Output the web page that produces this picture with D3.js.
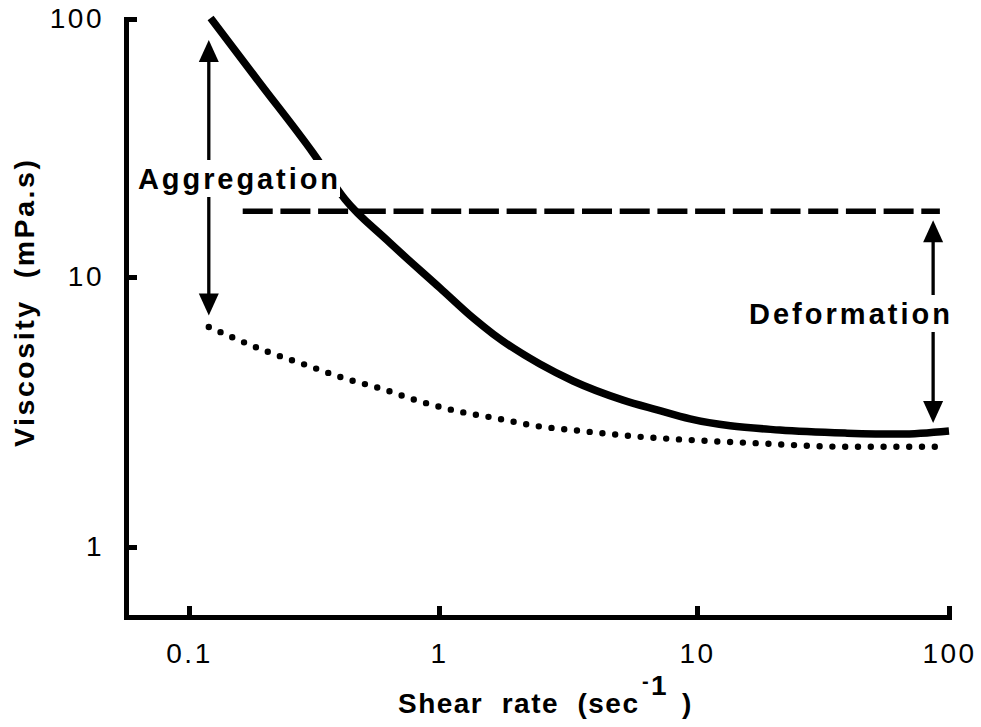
<!DOCTYPE html>
<html>
<head>
<meta charset="utf-8">
<script src="https://cdn.jsdelivr.net/npm/d3@7"></script>
<style>
  html, body { margin: 0; padding: 0; background: #fff; }
  svg { display: block; }
  text { font-family: "Liberation Sans", Arial, Helvetica, sans-serif; fill: #000; }
</style>
</head>
<body>
<svg id="chart" width="981" height="727"></svg>
<script>
// Tick values on both logarithmic axes
const shearTicks = [0.1, 1, 10, 100];
const viscosityTicks = [1, 10, 100];

// Whole blood viscosity vs shear rate (solid curve)
const bloodShear     = [0.122, 0.192, 0.313, 0.421, 0.619, 1.009, 1.355, 1.62, 2.46, 3.31, 5.17, 7.0, 9.4, 21.3, 39.4, 64, 100];
const bloodViscosity = [101, 56.5, 30.3, 20.0, 13.9, 9.1, 7.05, 6.15, 4.76, 4.12, 3.50, 3.22, 2.98, 2.71, 2.64, 2.62, 2.69];

// Non-aggregating suspension (dotted curve)
const noAggShear     = [0.120, 0.207, 0.294, 0.413, 0.592, 0.832, 1.17, 1.66, 2.36, 3.31, 6.0, 9.4, 16.2, 40.4, 94];
const noAggViscosity = [6.53, 5.28, 4.72, 4.23, 3.85, 3.47, 3.19, 3.0, 2.81, 2.71, 2.56, 2.49, 2.43, 2.35, 2.35];

// Rigid-cell suspension (dashed line)
const rigidShear     = [0.164, 92];
const rigidViscosity = [18, 18];

// Double-headed annotation arrows: [shear, top viscosity, bottom viscosity]
const aggregationArrow = [0.12, 83, 7.2];
const deformationArrow = [86.5, 16.6, 2.88];

const svg = d3.select("#chart");
svg.append("rect").attr("width", 981).attr("height", 727).attr("fill", "#fff");

// Log scales (piecewise per decade, as drawn on the printed axes)
const x = d3.scaleLog()
  .domain([0.056, 0.1, 1, 10, 100])
  .range([126, 189, 439, 697, 949]);
const y = d3.scaleLog()
  .domain([0.551, 1, 10, 100])
  .range([617, 547, 277, 19]);

const line = d3.line()
  .x(d => x(d[0]))
  .y(d => y(d[1]))
  .curve(d3.curveMonotoneX);

const zip = (a, b) => a.map((v, i) => [v, b[i]]);

// Curves
svg.append("path")
  .datum(zip(rigidShear, rigidViscosity))
  .attr("d", line)
  .attr("fill", "none")
  .attr("stroke", "#000")
  .attr("stroke-width", 5.5)
  .attr("stroke-dasharray", "30 7.7");

svg.append("path")
  .datum(zip(noAggShear, noAggViscosity))
  .attr("d", line)
  .attr("fill", "none")
  .attr("stroke", "#000")
  .attr("stroke-width", 6.4)
  .attr("stroke-linecap", "round")
  .attr("stroke-dasharray", "0 12.8");

svg.append("path")
  .datum(zip(bloodShear, bloodViscosity))
  .attr("d", line)
  .attr("fill", "none")
  .attr("stroke", "#000")
  .attr("stroke-width", 7.5);

// Arrows
function arrow(a) {
  const ax = x(a[0]), y1 = y(a[1]), y2 = y(a[2]);
  const head = 22, half = 10;
  const g = svg.append("g");
  g.append("line")
    .attr("x1", ax).attr("x2", ax)
    .attr("y1", y1 + head - 2).attr("y2", y2 - head + 2)
    .attr("stroke", "#000").attr("stroke-width", 3.3);
  g.append("path")
    .attr("d", `M${ax},${y1}L${ax - half},${y1 + head}L${ax + half},${y1 + head}Z`)
    .attr("fill", "#000");
  g.append("path")
    .attr("d", `M${ax},${y2}L${ax - half},${y2 - head}L${ax + half},${y2 - head}Z`)
    .attr("fill", "#000");
}
arrow(aggregationArrow);
arrow(deformationArrow);

// Annotation labels sit on a white box that interrupts lines behind them
function label(txt, tx, ty, len) {
  const g = svg.append("g");
  const bg = g.append("rect").attr("fill", "#fff");
  const t = g.append("text")
    .attr("x", tx).attr("y", ty)
    .attr("font-size", 29)
    .attr("font-weight", "bold")
    .attr("textLength", len)
    .attr("lengthAdjust", "spacing")
    .text(txt);
  const b = t.node().getBBox();
  bg.attr("x", b.x - 4).attr("y", b.y - 3)
    .attr("width", b.width + 6).attr("height", b.height + 5);
}
label("Aggregation", 138, 189, 200);
label("Deformation", 749, 324, 201);

// Axes
const yAxis = d3.axisLeft(y)
  .tickValues(viscosityTicks)
  .tickFormat(d => String(d))
  .tickSizeInner(-11)
  .tickSizeOuter(0)
  .tickPadding(22);

const xAxis = d3.axisBottom(x)
  .tickValues(shearTicks)
  .tickFormat(d => String(d))
  .tickSizeInner(-11)
  .tickSizeOuter(0)
  .tickPadding(26);

function styleAxis(g) {
  g.select(".domain")
    .attr("stroke", "#000")
    .attr("stroke-width", 5)
    .attr("stroke-linecap", "square");
  g.selectAll(".tick line")
    .attr("stroke", "#000")
    .attr("stroke-width", 5);
  g.selectAll(".tick text")
    .attr("font-family", "\"Liberation Sans\", Arial, Helvetica, sans-serif")
    .attr("font-size", 28)
    .attr("fill", "#000")
    .style("letter-spacing", "2.5px");
}

svg.append("g")
  .attr("transform", "translate(126,0)")
  .call(yAxis)
  .call(styleAxis);

svg.append("g")
  .attr("transform", "translate(0,617)")
  .call(xAxis)
  .call(styleAxis);

// Axis titles
svg.append("text")
  .attr("transform", "translate(34,303.5) rotate(-90)")
  .attr("text-anchor", "middle")
  .attr("font-size", 28.5)
  .attr("font-weight", "bold")
  .attr("textLength", 287)
  .attr("lengthAdjust", "spacing")
  .style("white-space", "pre")
  .text("Viscosity  (mPa.s)");

const xt = svg.append("g").attr("font-weight", "bold");
xt.append("text")
  .attr("x", 398).attr("y", 713)
  .attr("font-size", 28)
  .attr("textLength", 240)
  .attr("lengthAdjust", "spacing")
  .style("white-space", "pre")
  .text("Shear  rate  (sec");
xt.append("text")
  .attr("x", 642).attr("y", 688)
  .attr("font-size", 20)
  .text("-");
xt.append("text")
  .attr("x", 651).attr("y", 695)
  .attr("font-size", 28)
  .text("1");
xt.append("text")
  .attr("x", 682).attr("y", 713)
  .attr("font-size", 28)
  .text(")");
</script>
</body>
</html>
